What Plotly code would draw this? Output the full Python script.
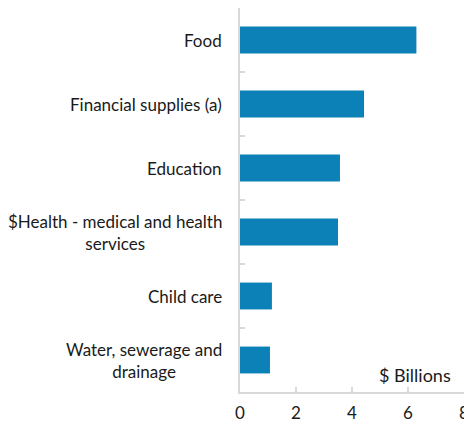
import plotly.graph_objects as go

categories = ["Food", "Financial supplies (a)", "Education",
              "$Health - medical and health<br>services", "Child care",
              "Water, sewerage and<br>drainage"]
values = [6.3, 4.43, 3.57, 3.5, 1.14, 1.07]
x_ticks = [0, 2, 4, 6, 8]

FONT = "Lato, Open Sans, sans-serif"
AXIS_COL = "#d9d9d9"

fig = go.Figure(go.Bar(
    x=values, y=categories, orientation="h",
    marker=dict(color="#0b81b7", line=dict(width=0)),
    width=0.42,
))

annotations = []
for c in categories:
    annotations.append(dict(
        x=0, xref="paper", y=c, yref="y", text=c, showarrow=False,
        xanchor="right", yanchor="middle", align="center", xshift=-16,
        font=dict(family=FONT, size=17, color="#1a1a1a"),
    ))
annotations.append(dict(
    x=7.6, xref="x", y=0.045, yref="paper", text="$ Billions",
    showarrow=False, xanchor="right", yanchor="middle",
    font=dict(family=FONT, size=18, color="#1a1a1a"),
))

fig.update_layout(
    width=464, height=424,
    margin=dict(l=240, r=0, t=8, b=32, autoexpand=False),
    paper_bgcolor="white", plot_bgcolor="white",
    showlegend=False,
    annotations=annotations,
    xaxis=dict(
        range=[0, 8], tickvals=x_ticks, ticktext=[str(t) for t in x_ticks],
        showgrid=False, zeroline=False, showline=True, linecolor=AXIS_COL,
        linewidth=2, ticks="inside", ticklen=5, tickcolor=AXIS_COL, tickwidth=1.5,
        tickfont=dict(family=FONT, size=17, color="#1a1a1a"),
        ticklabeloverflow="allow", ticklabelstandoff=5, automargin=False,
        fixedrange=True,
    ),
    yaxis=dict(
        categoryorder="array", categoryarray=categories, autorange="reversed",
        showticklabels=False, showgrid=False, zeroline=False, showline=True,
        linecolor=AXIS_COL, linewidth=2, ticks="inside", ticklen=5,
        tickcolor=AXIS_COL, tickwidth=1.5, tickson="boundaries",
        automargin=False, fixedrange=True,
    ),
)

fig.write_html("out.html")
